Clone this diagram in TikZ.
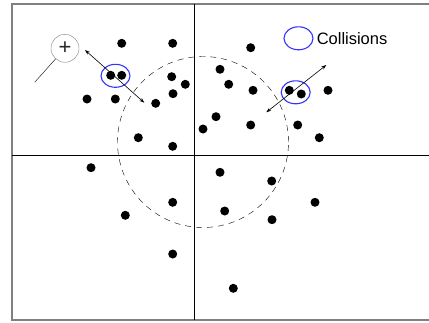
\documentclass[tikz,border=0pt]{standalone}
\usepackage{fontspec}
\setmainfont{Liberation Sans}
\usetikzlibrary{arrows.meta,shapes.geometric}

\begin{document}
\begin{tikzpicture}[x=1pt,y=-1pt]
\tikzset{
  particle/.style={circle,fill=black,minimum size=9pt,inner sep=0pt},
  collision/.style={ellipse,draw=blue!80!white,line width=1.1pt,minimum width=29pt,minimum height=23pt,inner sep=0pt},
  bothways/.style={{Stealth[length=5pt,width=3.5pt]}-{Stealth[length=5pt,width=3.5pt]},semithick},
  axis/.style={semithick},
  frameline/.style={draw=gray,line width=1.2pt}
}
\useasboundingbox (0,0) rectangle (429,322);
% frame and axes
\draw[frameline] (429,4) -- (12,4) -- (12,320) -- (429,320);
\draw[axis] (12,155) -- (429,155);
\draw[axis] (194,4) -- (194,320);
\draw[dashed,dash pattern=on 6pt off 5pt] (203,142) circle[radius=85.5pt];
% particles
\node[particle] (p_1) at (121.7,43.3) {};
\node[particle] (p_2) at (172.7,43.3) {};
\node[particle] (p_3) at (110.7,75.3) {};
\node[particle] (p_4) at (121.7,75.3) {};
\node[particle] (p_5) at (171.7,76.7) {};
\node[particle] (p_6) at (185.3,84.3) {};
\node[particle] (p_7) at (173.0,93.7) {};
\node[particle] (p_8) at (87.0,99.0) {};
\node[particle] (p_9) at (115.3,99.0) {};
\node[particle] (p_10) at (155.7,103.3) {};
\node[particle] (p_11) at (138.3,137.7) {};
\node[particle] (p_12) at (172.7,146.3) {};
\node[particle] (p_13) at (203.0,129.0) {};
\node[particle] (p_14) at (216.0,116.7) {};
\node[particle] (p_15) at (250.7,47.7) {};
\node[particle] (p_16) at (220.0,69.3) {};
\node[particle] (p_17) at (228.7,84.3) {};
\node[particle] (p_18) at (253.0,90.3) {};
\node[particle] (p_19) at (289.3,90.3) {};
\node[particle] (p_20) at (301.3,94.0) {};
\node[particle] (p_21) at (328.0,90.3) {};
\node[particle] (p_22) at (250.7,125.0) {};
\node[particle] (p_23) at (297.7,125.0) {};
\node[particle] (p_24) at (319.3,137.7) {};
\node[particle] (p_25) at (91.0,167.7) {};
\node[particle] (p_26) at (172.7,202.3) {};
\node[particle] (p_27) at (125.3,215.3) {};
\node[particle] (p_28) at (172.7,254.0) {};
\node[particle] (p_29) at (220.0,172.3) {};
\node[particle] (p_30) at (271.7,181.0) {};
\node[particle] (p_31) at (315.0,202.3) {};
\node[particle] (p_32) at (224.7,211.0) {};
\node[particle] (p_33) at (272.0,219.7) {};
\node[particle] (p_34) at (233.3,288.3) {};
% collisions
\node[collision] (c_left) at (115.5,75.8) {};
\node[collision] (c_right) at (295.7,92.3) {};
\node[collision] (c_key) at (298.5,38.3) {};
\node[anchor=west,inner sep=0pt,font=\fontsize{16.5}{18}\selectfont] (l_key) at ([xshift=3pt]c_key.east) {Collisions};
% outgoing directions
\coordinate (a_left_1) at (85.0,50.0);
\coordinate (a_left_2) at (144.3,102.7);
\coordinate (a_right_1) at (326.3,65.0);
\coordinate (a_right_2) at (266.3,112.3);
\draw[bothways] (a_left_1) -- (a_left_2);
\draw[bothways] (a_right_1) -- (a_right_2);
% zoom marker
\node[circle,draw=gray,minimum size=28pt,inner sep=0pt,font=\fontsize{22}{22}\selectfont,text=black!85] (plus) at (65.0,48.3) {+};
\coordinate (plus_end) at (34.7,82.3);
\draw (plus) -- (plus_end);
\end{tikzpicture}
\end{document}
